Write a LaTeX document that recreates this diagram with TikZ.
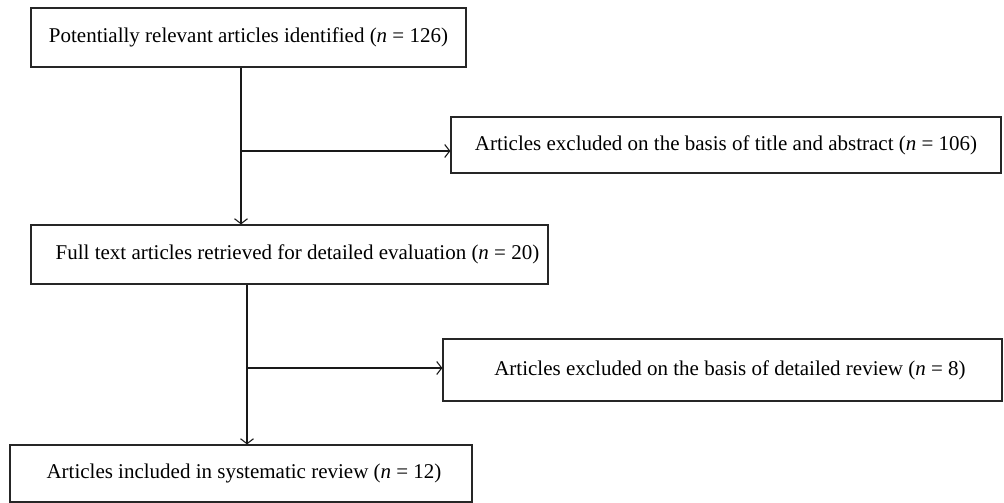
\documentclass[tikz,border=0pt]{standalone}
\usepackage{fontspec}
\setmainfont{Liberation Serif}
\usetikzlibrary{arrows.meta}
\tikzset{
  flowbox/.style={draw=black!85, line width=1.2pt, rectangle, inner sep=0pt,
    font=\fontsize{21}{25}\selectfont, anchor=center},
  conn/.style={line width=1.1pt, draw=black!90},
  arr/.style={conn, -{Straight Barb[length=5pt,width=13pt,line width=1.1pt]}}
}
\begin{document}
\begin{tikzpicture}[x=1pt,y=-1pt]
\useasboundingbox (0,0) rectangle (1004,503);
\node[flowbox, minimum width=435pt, minimum height=59pt] (b1) at (248.5,37.5)
  {\raisebox{-5pt}{Potentially relevant articles identified (\textit{n} = 126)}};
\node[flowbox, minimum width=550pt, minimum height=56pt] (b2) at (726,145)
  {\raisebox{-5pt}{Articles excluded on the basis of title and abstract (\textit{n} = 106)}};
\node[flowbox, minimum width=517pt, minimum height=59pt] (b3) at (289.5,254.5)
  {\raisebox{-5pt}{\hspace{16pt}Full text articles retrieved for detailed evaluation (\textit{n} = 20)}};
\node[flowbox, minimum width=559pt, minimum height=62pt] (b4) at (722.5,370)
  {\raisebox{-5pt}{\hspace{15pt}Articles excluded on the basis of detailed review (\textit{n} = 8)}};
\node[flowbox, minimum width=462pt, minimum height=57pt] (b5) at (241,473.5)
  {\raisebox{-5pt}{\hspace{6pt}Articles included in systematic review (\textit{n} = 12)}};
\coordinate (x1) at (241,0);
\coordinate (j1) at (241,151);
\coordinate (x2) at (247,0);
\coordinate (j2) at (247,368);
\draw[arr] (b1.south -| x1) -- (b3.north -| x1);
\draw[arr] (j1) -- (j1 -| b2.west);
\draw[arr] (b3.south -| x2) -- (b5.north -| x2);
\draw[arr] (j2) -- (j2 -| b4.west);
\end{tikzpicture}
\end{document}
